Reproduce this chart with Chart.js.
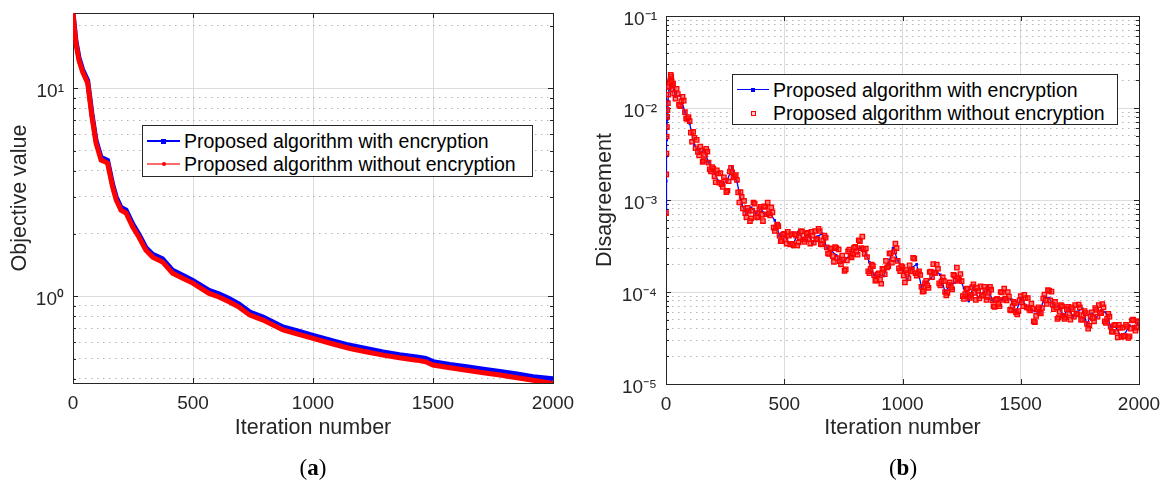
<!DOCTYPE html>
<html>
<head>
<meta charset="utf-8">
<script src="https://cdn.jsdelivr.net/npm/chart.js@4.4.0/dist/chart.umd.min.js"></script>
<style>
  body { margin: 0; background: #fff; width: 1164px; height: 484px; position: relative; overflow: hidden;
         font-family: "Liberation Sans", Arial, sans-serif; }
  .plot { position: absolute; top: 0; }
  .legend { position: absolute; box-sizing: border-box; background: #fff; border: 1px solid #262626;
            font-size: 19.5px; color: #000; }
  .legend .txt { position: absolute; height: 22px; line-height: 22px; white-space: nowrap; }
  .legend .ln { position: absolute; }
  .legend .mk { position: absolute; box-sizing: border-box; }
  .caption { position: absolute; top: 455px; font-family: "Liberation Serif", "DejaVu Serif", serif;
             font-size: 23px; line-height: 26px; color: #000; transform: translateX(-50%); }
</style>
</head>
<body>
<canvas id="chartA" class="plot" width="582" height="484" style="left:0"></canvas>
<canvas id="chartB" class="plot" width="582" height="484" style="left:582px"></canvas>

<div class="legend" style="left:142px; top:125px; width:391px; height:52px;">
  <div class="ln" style="left:4px; top:14px; width:33px; height:2px; background:#0000ff"></div>
  <div class="mk" style="left:18px; top:12.5px; width:5px; height:5px; background:#0000ff"></div>
  <div class="txt" style="left:41px; top:4px;">Proposed algorithm with encryption</div>
  <div class="ln" style="left:4px; top:37px; width:33px; height:2px; background:#ff6b6b"></div>
  <div class="mk" style="left:18.5px; top:36px; width:4px; height:4px; border-radius:2px; background:#ff0000"></div>
  <div class="txt" style="left:41px; top:27px;">Proposed algorithm without encryption</div>
</div>

<div class="legend" style="left:732px; top:74px; width:386px; height:51px;">
  <div class="ln" style="left:4px; top:14px; width:32px; height:1.2px; background:#0000ff"></div>
  <div class="mk" style="left:18px; top:12.5px; width:4px; height:4px; background:#0000ff"></div>
  <div class="txt" style="left:40px; top:4px;">Proposed algorithm with encryption</div>
  <div class="mk" style="left:18px; top:36px; width:5px; height:5px; border:1.3px solid #ff0000; background:#ffd0d0"></div>
  <div class="txt" style="left:40px; top:27px;">Proposed algorithm without encryption</div>
</div>

<div class="caption" style="left:313px;">(<b>a</b>)</div>
<div class="caption" style="left:903px;">(<b>b</b>)</div>

<script>
// ---------- data (a): objective value ----------
var iterA = [0, 12, 25, 40, 61, 79, 96, 117, 130, 144, 165, 180, 200, 221, 249, 275, 304, 332, 373, 415,
             457, 499, 567, 608, 650, 692, 737, 792, 875, 940, 1000, 1080, 1154, 1220, 1292, 1360, 1432,
             1470, 1500, 1570, 1640, 1710, 1779, 1850, 1917, 2000];
var objWith = [23.0, 16.9, 14.0, 12.3, 10.9, 7.5, 5.6, 4.64, 4.58, 4.49, 3.45, 3.0, 2.67, 2.59, 2.22, 1.98,
               1.71, 1.59, 1.51, 1.33, 1.26, 1.19, 1.065, 1.025, 0.975, 0.915, 0.838, 0.793, 0.71, 0.678,
               0.648, 0.611, 0.58, 0.56, 0.539, 0.523, 0.51, 0.502, 0.484, 0.469, 0.457, 0.445, 0.434,
               0.422, 0.41, 0.4];
var objWithout = [23.0, 16.5, 13.6, 12.0, 10.6, 7.3, 5.44, 4.51, 4.45, 4.36, 3.35, 2.9, 2.59, 2.51, 2.15,
                  1.92, 1.66, 1.54, 1.46, 1.29, 1.22, 1.155, 1.03, 0.99, 0.94, 0.885, 0.81, 0.767, 0.687,
                  0.655, 0.626, 0.59, 0.56, 0.54, 0.52, 0.505, 0.492, 0.483, 0.466, 0.452, 0.44, 0.428,
                  0.417, 0.405, 0.394, 0.38];

// ---------- data (b): disagreement ----------
var iterBlue = [0, 1, 2, 3, 5, 8, 13, 18, 22, 26, 40, 60, 80, 100, 120, 140, 160, 180, 200, 220, 240, 260,
                280, 300, 320, 340, 360, 380, 400, 420, 440, 460, 480, 500, 520, 540, 560, 580, 600, 620,
                640, 660, 680, 700, 720, 740, 760, 780, 800, 820, 840, 860, 880, 900, 920, 940, 960, 980,
                1000, 1020, 1040, 1060, 1080, 1100, 1120, 1140, 1160, 1180, 1200, 1220, 1240, 1260, 1280,
                1300, 1320, 1340, 1360, 1380, 1400, 1420, 1440, 1460, 1480, 1500, 1520, 1540, 1560, 1580,
                1600, 1620, 1640, 1660, 1680, 1700, 1720, 1740, 1760, 1780, 1800, 1820, 1840, 1860, 1880,
                1900, 1920, 1940, 1960, 1980, 2000];
var disWith = [7.0e-4, 1.6e-3, 3.0e-3, 4.5e-3, 7.5e-3, 1.2e-2, 1.6e-2, 2.05e-2, 2.1e-2, 1.8e-2, 1.33e-2,
               1.37e-2, 9.0e-3, 6.8e-3, 3.96e-3, 3.2e-3, 3.5e-3, 2.57e-3, 2.1e-3, 1.62e-3, 1.47e-3, 1.65e-3,
               2.3e-3, 1.58e-3, 9.0e-4, 6.9e-4, 8.25e-4, 7.2e-4, 8.0e-4, 7.0e-4, 7.2e-4, 6.0e-4, 4.1e-4,
               4.1e-4, 3.4e-4, 3.4e-4, 4.5e-4, 3.7e-4, 4.2e-4, 3.4e-4, 4.0e-4, 4.3e-4, 3.0e-4, 2.8e-4,
               2.5e-4, 2.1e-4, 2.3e-4, 2.5e-4, 2.9e-4, 3.0e-4, 2.8e-4, 2.1e-4, 1.52e-4, 1.52e-4, 1.49e-4,
               2.0e-4, 3.0e-4, 2.2e-4, 1.8e-4, 1.35e-4, 1.84e-4, 2.0e-4, 1.14e-4, 1.26e-4, 1.4e-4, 1.7e-4,
               1.54e-4, 1.0e-4, 1.2e-4, 1.26e-4, 1.43e-4, 1.1e-4, 8.0e-5, 1.15e-4, 8.6e-5, 9.7e-5, 1.15e-4,
               8.1e-5, 8.0e-5, 8.3e-5, 8.6e-5, 8.3e-5, 6.0e-5, 8.6e-5, 7.2e-5, 6.6e-5, 6.2e-5, 5.9e-5,
               8.9e-5, 8.6e-5, 6.9e-5, 6.9e-5, 5.5e-5, 6.6e-5, 5.4e-5, 6.1e-5, 6.6e-5, 4.5e-5, 5.8e-5,
               5.3e-5, 6.3e-5, 6.0e-5, 4.2e-5, 4.2e-5, 3.4e-5, 3.5e-5, 4.3e-5, 4.1e-5, 4.6e-5];

var iterRed = [0, 1, 2, 3, 5, 8, 13, 18, 22, 26, 30, 40, 50, 60, 70, 80, 90, 100, 110, 120, 130, 140, 150,
               160, 170, 180, 190, 200, 210, 220, 230, 240, 250, 260, 270, 280, 290, 300, 310, 320, 330,
               340, 350, 360, 370, 380, 390, 400, 410, 420, 430, 440, 450, 460, 470, 480, 490, 500, 510,
               520, 530, 540, 550, 560, 570, 580, 590, 600, 610, 620, 630, 640, 650, 660, 670, 680, 690,
               700, 710, 720, 730, 740, 750, 760, 770, 780, 790, 800, 810, 820, 830, 840, 850, 860, 870,
               880, 890, 900, 910, 920, 930, 940, 950, 960, 970, 980, 990, 1000, 1010, 1020, 1030, 1040,
               1050, 1060, 1070, 1080, 1090, 1100, 1110, 1120, 1130, 1140, 1150, 1160, 1170, 1180, 1190,
               1200, 1210, 1220, 1230, 1240, 1250, 1260, 1270, 1280, 1290, 1300, 1310, 1320, 1330, 1340,
               1350, 1360, 1370, 1380, 1390, 1400, 1410, 1420, 1430, 1440, 1450, 1460, 1470, 1480, 1490,
               1500, 1510, 1520, 1530, 1540, 1550, 1560, 1570, 1580, 1590, 1600, 1610, 1620, 1630, 1640,
               1650, 1660, 1670, 1680, 1690, 1700, 1710, 1720, 1730, 1740, 1750, 1760, 1770, 1780, 1790,
               1800, 1810, 1820, 1830, 1840, 1850, 1860, 1870, 1880, 1890, 1900, 1910, 1920, 1930, 1940,
               1950, 1960, 1970, 1980, 1990, 2000];
var disWithout = [7.2e-4, 1.9e-3, 3.2e-3, 4.9e-3, 8.0e-3, 1.13e-2, 1.7e-2, 2.0e-2, 2.2e-2, 1.75e-2,
                  1.84e-2, 1.26e-2, 1.42e-2, 1.05e-2, 1.32e-2, 9.0e-3, 7.6e-3, 7.2e-3, 4.3e-3, 4.75e-3,
                  4.5e-3, 3.05e-3, 3.45e-3, 2.7e-3, 3.6e-3, 2.55e-3, 2.05e-3, 2.2e-3, 1.56e-3, 1.94e-3,
                  1.96e-3, 1.39e-3, 1.63e-3, 1.26e-3, 2.04e-3, 2.0e-3, 1.78e-3, 1.65e-3, 9.4e-4, 1.08e-3,
                  9.8e-4, 6.5e-4, 7.6e-4, 6.3e-4, 9.4e-4, 7.2e-4, 6.6e-4, 8.4e-4, 5.9e-4, 8.4e-4,
                  9.4e-4, 6.8e-4, 7.35e-4, 4.6e-4, 5.4e-4, 4.1e-4, 3.56e-4, 4.3e-4, 3.36e-4, 4.1e-4,
                  4.25e-4, 3.2e-4, 4.1e-4, 3.45e-4, 4.55e-4, 3.7e-4, 3.75e-4, 4.4e-4, 3.36e-4, 4.1e-4,
                  4.6e-4, 3.75e-4, 4.6e-4, 3.3e-4, 4.1e-4, 3.05e-4, 2.6e-4, 2.97e-4, 2.13e-4, 3.0e-4,
                  2.9e-4, 2.0e-4, 2.25e-4, 1.76e-4, 2.76e-4, 2.47e-4, 2.58e-4, 3.1e-4, 2.54e-4, 3.56e-4,
                  4.0e-4, 2.6e-4, 2.4e-4, 1.6e-4, 1.98e-4, 1.52e-4, 1.34e-4, 1.6e-4, 1.23e-4, 1.78e-4,
                  2.18e-4, 1.91e-4, 2.62e-4, 2.27e-4, 3.36e-4, 2.18e-4, 1.69e-4, 1.87e-4, 1.27e-4, 1.62e-4,
                  1.95e-4, 1.74e-4, 2.31e-4, 1.51e-4, 1.68e-4, 1.14e-4, 1.02e-4, 1.32e-4, 1.11e-4, 1.67e-4,
                  2.01e-4, 1.61e-4, 1.79e-4, 1.18e-4, 1.44e-4, 1.0e-4, 9.8e-5, 1.27e-4, 1.07e-4, 1.51e-4,
                  1.84e-4, 1.35e-4, 1.31e-4, 8.4e-5, 1.08e-4, 9.0e-5, 9.3e-5, 1.21e-4, 8.2e-5, 1.03e-4,
                  1.15e-4, 9.1e-5, 1.05e-4, 8.8e-5, 1.14e-4, 8.1e-5, 6.9e-5, 8.4e-5, 7.0e-5, 9.9e-5,
                  1.09e-4, 8.1e-5, 8.9e-5, 6.3e-5, 7.8e-5, 6.0e-5, 6.2e-5, 9.0e-5, 7.0e-5, 8.6e-5,
                  8.6e-5, 6.3e-5, 6.6e-5, 4.7e-5, 6.5e-5, 5.9e-5, 6.7e-5, 9.4e-5, 7.4e-5, 1.03e-4,
                  1.01e-4, 6.5e-5, 6.8e-5, 5.3e-5, 7.2e-5, 5.5e-5, 5.3e-5, 6.9e-5, 5.0e-5, 6.5e-5,
                  7.2e-5, 5.7e-5, 6.8e-5, 5.0e-5, 6.2e-5, 4.5e-5, 4.3e-5, 6.0e-5, 4.8e-5, 6.4e-5,
                  7.2e-5, 5.9e-5, 6.8e-5, 4.6e-5, 5.8e-5, 4.2e-5, 3.7e-5, 4.4e-5, 3.2e-5, 4.1e-5,
                  4.1e-5, 3.3e-5, 4.2e-5, 3.3e-5, 4.9e-5, 4.1e-5, 4.1e-5, 4.8e-5];

// in-between red markers (odd fives)
var iterRed2 = [4, 6, 10, 15, 20, 24, 28, 35, 45, 55, 65, 75, 85, 95, 105, 115, 125, 135, 145, 155, 165,
                175, 185, 195, 205, 215, 225, 235, 245, 255, 265, 275, 285, 295, 305, 315, 325, 335, 345,
                355, 365, 375, 385, 395, 405, 415, 425, 435, 445, 455, 465, 475, 485, 495, 505, 515, 525,
                535, 545, 555, 565, 575, 585, 595, 605, 615, 625, 635, 645, 655, 665, 675, 685, 695, 705,
                715, 725, 735, 745, 755, 765, 775, 785, 795, 805, 815, 825, 835, 845, 855, 865, 875, 885,
                895, 905, 915, 925, 935, 945, 955, 965, 975, 985, 995, 1005, 1015, 1025, 1035, 1045, 1055,
                1065, 1075, 1085, 1095, 1105, 1115, 1125, 1135, 1145, 1155, 1165, 1175, 1185, 1195, 1205,
                1215, 1225, 1235, 1245, 1255, 1265, 1275, 1285, 1295, 1305, 1315, 1325, 1335, 1345, 1355,
                1365, 1375, 1385, 1395, 1405, 1415, 1425, 1435, 1445, 1455, 1465, 1475, 1485, 1495, 1505,
                1515, 1525, 1535, 1545, 1555, 1565, 1575, 1585, 1595, 1605, 1615, 1625, 1635, 1645, 1655,
                1665, 1675, 1685, 1695, 1705, 1715, 1725, 1735, 1745, 1755, 1765, 1775, 1785, 1795, 1805,
                1815, 1825, 1835, 1845, 1855, 1865, 1875, 1885, 1895, 1905, 1915, 1925, 1935, 1945, 1955,
                1965, 1975, 1985, 1995];
var disWithout2 = [6.2e-3, 9.5e-3, 1.4e-2, 1.9e-2, 2.3e-2, 1.95e-2, 1.6e-2, 1.44e-2, 1.62e-2, 1.08e-2,
                   1.18e-2, 1.2e-2, 7.7e-3, 7.95e-3, 5.4e-3, 5.5e-3, 3.65e-3, 3.33e-3, 3.8e-3, 2.6e-3,
                   3.1e-3, 3.36e-3, 2.15e-3, 2.28e-3, 1.81e-3, 2.1e-3, 1.54e-3, 1.49e-3, 1.76e-3, 1.22e-3,
                   1.6e-3, 2.24e-3, 1.76e-3, 1.86e-3, 1.21e-3, 1.22e-3, 8.1e-4, 7.2e-4, 8.2e-4, 5.9e-4,
                   7.65e-4, 9.1e-4, 6.45e-4, 7.95e-4, 6.9e-4, 8.55e-4, 7.0e-4, 7.2e-4, 8.3e-4, 5.0e-4,
                   5.0e-4, 5.2e-4, 3.57e-4, 4.2e-4, 3.72e-4, 4.5e-4, 3.3e-4, 3.33e-4, 4.25e-4, 3.2e-4,
                   3.95e-4, 4.55e-4, 3.5e-4, 4.35e-4, 3.77e-4, 4.5e-4, 3.43e-4, 3.74e-4, 4.87e-4, 3.32e-4,
                   3.65e-4, 3.9e-4, 2.62e-4, 2.97e-4, 2.46e-4, 3.08e-4, 2.33e-4, 2.16e-4, 2.49e-4, 1.7e-4,
                   2.2e-4, 2.89e-4, 2.37e-4, 3.02e-4, 2.74e-4, 3.65e-4, 3.0e-4, 2.93e-4, 2.97e-4, 1.68e-4,
                   1.78e-4, 1.91e-4, 1.33e-4, 1.56e-4, 1.37e-4, 1.79e-4, 1.56e-4, 1.85e-4, 2.63e-4, 2.08e-4,
                   2.75e-4, 3.0e-4, 1.81e-4, 1.91e-4, 1.51e-4, 1.73e-4, 1.41e-4, 1.67e-4, 2.35e-4, 1.6e-4,
                   1.6e-4, 1.53e-4, 1.01e-4, 1.24e-4, 1.18e-4, 1.65e-4, 1.45e-4, 1.62e-4, 1.99e-4, 1.24e-4,
                   1.3e-4, 1.32e-4, 9.2e-5, 1.19e-4, 1.13e-4, 1.54e-4, 1.32e-4, 1.42e-4, 1.57e-4, 9.0e-5,
                   9.5e-5, 1.09e-4, 8.6e-5, 1.13e-4, 9.8e-5, 1.11e-4, 8.5e-5, 9.2e-5, 1.14e-4, 8.2e-5,
                   1.0e-4, 1.06e-4, 7.0e-5, 8.2e-5, 7.4e-5, 1.0e-4, 8.2e-5, 8.5e-5, 1.0e-4, 6.4e-5,
                   7.0e-5, 7.55e-5, 5.7e-5, 8.1e-5, 7.7e-5, 9.3e-5, 6.8e-5, 6.6e-5, 7.5e-5, 4.8e-5,
                   5.5e-5, 6.8e-5, 5.85e-5, 8.5e-5, 8.1e-5, 1.05e-4, 8.1e-5, 7.3e-5, 7.8e-5, 5.1e-5,
                   6.1e-5, 7.0e-5, 5.1e-5, 6.5e-5, 5.8e-5, 6.8e-5, 5.4e-5, 5.8e-5, 7.3e-5, 5.0e-5,
                   5.6e-5, 5.9e-5, 4.0e-5, 5.4e-5, 5.2e-5, 6.7e-5, 5.4e-5, 5.9e-5, 7.4e-5, 4.8e-5,
                   5.1e-5, 5.4e-5, 3.7e-5, 4.35e-5, 3.7e-5, 4.4e-5, 3.26e-5, 3.33e-5, 4.4e-5, 3.16e-5,
                   4.0e-5, 5.0e-5, 3.8e-5, 4.8e-5];

// ---------- tick values ----------
var iterTicks = [0, 500, 1000, 1500, 2000];
var objTicks = [0.4, 0.5, 0.6, 0.7, 0.8, 0.9, 1, 2, 3, 4, 5, 6, 7, 8, 9, 10, 20];
var disTicks = [1e-5, 2e-5, 3e-5, 4e-5, 5e-5, 6e-5, 7e-5, 8e-5, 9e-5,
                1e-4, 2e-4, 3e-4, 4e-4, 5e-4, 6e-4, 7e-4, 8e-4, 9e-4,
                1e-3, 2e-3, 3e-3, 4e-3, 5e-3, 6e-3, 7e-3, 8e-3, 9e-3,
                1e-2, 2e-2, 3e-2, 4e-2, 5e-2, 6e-2, 7e-2, 8e-2, 9e-2, 1e-1];

var FONT = '"Liberation Sans", Arial, sans-serif';
var TXT = '#262626';
var SUP = {'-': '\u207B', '0': '\u2070', '1': '\u00B9', '2': '\u00B2', '3': '\u00B3',
           '4': '\u2074', '5': '\u2075'};

function isDecade(v) {
    var l = Math.log10(v);
    return Math.abs(l - Math.round(l)) < 1e-6;
}

function decadeLabel(v) {
    if (!isDecade(v)) return '';
    var e = String(Math.round(Math.log10(v)));
    return '10' + e.split('').map(function(c) { return SUP[c]; }).join('');
}

function pairs(xs, ys) {
    return xs.map(function(x, i) { return {x: x, y: ys[i]}; });
}

// box + inward tick marks, MATLAB style
var boxPlugin = {
    id: 'box',
    beforeDatasetsDraw: function(chart) {
        var ctx = chart.ctx, a = chart.chartArea, sx = chart.scales.x, sy = chart.scales.y;
        ctx.save();
        ctx.strokeStyle = TXT;
        ctx.lineWidth = 1;
        ctx.beginPath();
        sx.ticks.forEach(function(t) {
            var px = Math.round(sx.getPixelForValue(t.value)) + 0.5;
            ctx.moveTo(px, a.bottom); ctx.lineTo(px, a.bottom - 5);
            ctx.moveTo(px, a.top); ctx.lineTo(px, a.top + 5);
        });
        sy.ticks.forEach(function(t) {
            var py = Math.round(sy.getPixelForValue(t.value)) + 0.5;
            var len = isDecade(t.value) ? 5 : 3;
            ctx.moveTo(a.left, py); ctx.lineTo(a.left + len, py);
            ctx.moveTo(a.right, py); ctx.lineTo(a.right - len, py);
        });
        ctx.stroke();
        ctx.strokeRect(Math.round(a.left) + 0.5, Math.round(a.top) + 0.5,
                       Math.round(a.width), Math.round(a.height));
        ctx.restore();
    }
};

function buildChart(id, o) {
    return new Chart(document.getElementById(id), {
        type: 'line',
        data: { datasets: o.datasets },
        options: {
            responsive: false,
            animation: false,
            devicePixelRatio: 1,
            layout: { padding: o.padding },
            plugins: { legend: { display: false }, tooltip: { enabled: false } },
            scales: {
                x: {
                    type: 'linear', min: 0, max: 2000,
                    afterBuildTicks: function(s) { s.ticks = iterTicks.map(function(v) { return {value: v}; }); },
                    afterFit: function(s) { s.height = o.xHeight; s.paddingLeft = 0; s.paddingRight = 0; },
                    ticks: { autoSkip: false, maxRotation: 0, padding: 9.5, color: TXT,
                             font: { family: FONT, size: 19 },
                             callback: function(v) { return String(v); } },
                    grid: { drawTicks: false, color: '#dcdcdc', lineWidth: 1 },
                    border: { display: false },
                    title: { display: true, text: 'Iteration number', color: TXT,
                             font: { family: FONT, size: 21.5 }, padding: { top: 0, bottom: 42.6 } }
                },
                y: {
                    type: 'logarithmic', min: o.yMin, max: o.yMax,
                    afterBuildTicks: function(s) { s.ticks = o.yTicks.map(function(v) { return {value: v}; }); },
                    afterFit: function(s) { s.width = o.yWidth; s.paddingTop = 0; s.paddingBottom = 0; },
                    ticks: { autoSkip: false, padding: 9, labelOffset: 4, color: TXT,
                             font: { family: FONT, size: 19 },
                             callback: function(v) { return decadeLabel(v); } },
                    grid: { drawTicks: false, lineWidth: 1,
                            color: function(c) { return c.tick && isDecade(c.tick.value) ? '#dcdcdc' : '#b4b4b4'; } },
                    border: { display: false,
                              dash: function(c) { return c.tick && isDecade(c.tick.value) ? [] : [1.5, 4.5]; } },
                    title: { display: true, text: o.yTitle, color: TXT,
                             font: { family: FONT, size: 21.5 }, padding: { top: o.yTitlePad, bottom: 0 } }
                }
            }
        },
        plugins: [boxPlugin]
    });
}

buildChart('chartA', {
    padding: { left: 0, right: 29, top: 13, bottom: 0 },
    xHeight: 101, yWidth: 73, yTitlePad: 7.6,
    yMin: 0.382, yMax: 23, yTicks: objTicks, yTitle: 'Objective value',
    datasets: [
        { label: 'Proposed algorithm with encryption', data: pairs(iterA, objWith),
          borderColor: '#0000ff', backgroundColor: '#0000ff', borderWidth: 5, pointRadius: 0,
          tension: 0, order: 1 },
        { label: 'Proposed algorithm without encryption', data: pairs(iterA, objWithout),
          borderColor: '#ff0000', backgroundColor: '#ff0000', borderWidth: 5, pointRadius: 0,
          tension: 0, order: 0 }
    ]
});

buildChart('chartB', {
    padding: { left: 0, right: 25, top: 16, bottom: 0 },
    xHeight: 100, yWidth: 84, yTitlePad: 10.6,
    yMin: 1e-5, yMax: 1e-1, yTicks: disTicks, yTitle: 'Disagreement',
    datasets: [
        { label: 'Proposed algorithm with encryption', data: pairs(iterBlue, disWith),
          borderColor: '#0000ff', backgroundColor: '#0000ff', borderWidth: 1.3,
          pointStyle: 'rect', pointRadius: 1.8, pointBorderWidth: 0, tension: 0, order: 1 },
        { label: 'Proposed algorithm without encryption',
          data: pairs(iterRed, disWithout).concat(pairs(iterRed2, disWithout2)),
          showLine: false, borderColor: '#ff0000', backgroundColor: 'rgba(255,30,30,0.6)',
          pointStyle: 'rect', pointRadius: 3.1, pointBorderWidth: 1.3, order: 0 }
    ]
});
</script>
</body>
</html>
